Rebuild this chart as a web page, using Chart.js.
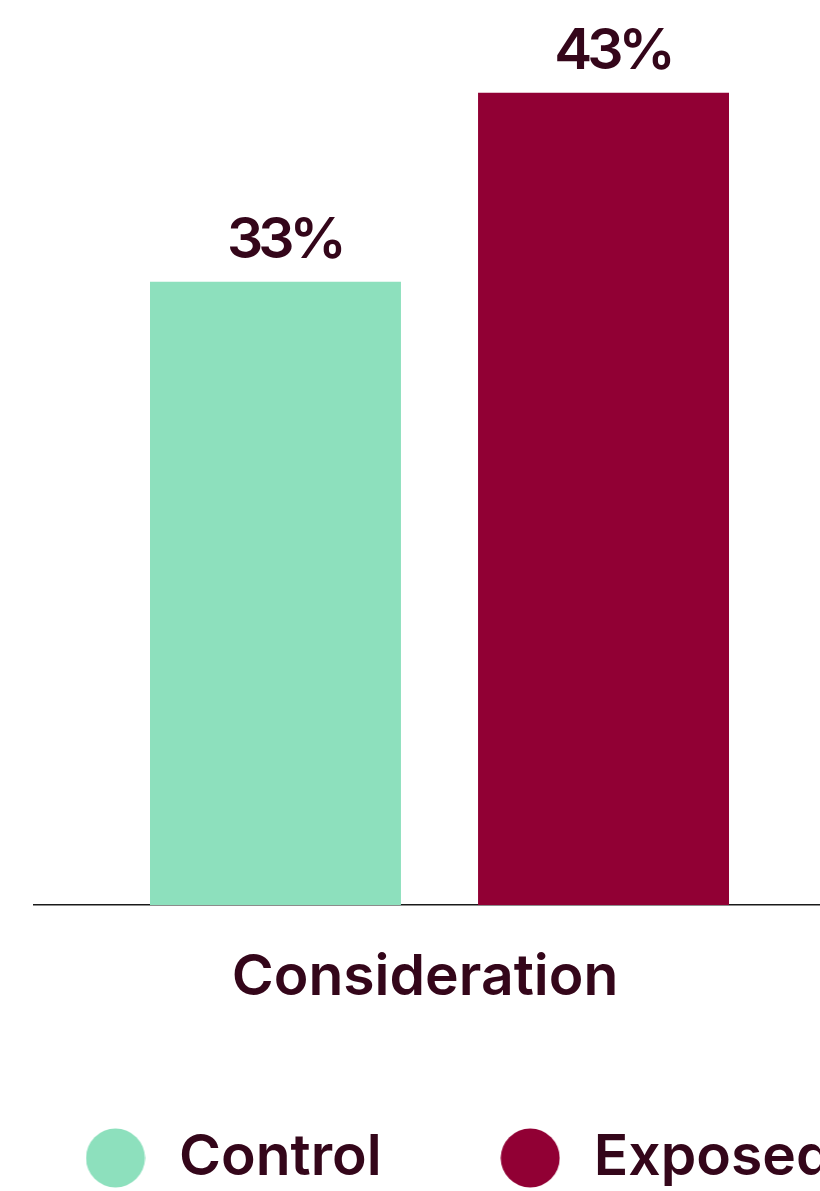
<!DOCTYPE html>
<html>
<head>
<meta charset="utf-8">
<script src="https://cdn.jsdelivr.net/npm/chart.js@4"></script>
<style>
html, body { margin: 0; padding: 0; background: #fff; }
body { width: 820px; height: 1191px; overflow: hidden; position: relative; }
#wrap { position: absolute; left: -33px; top: 0; }
</style>
</head>
<body>
<div id="wrap"><canvas id="myChart" width="1100" height="1240"></canvas></div>
<script>
const categories = ['Consideration'];
const seriesNames = ['Control', 'Exposed'];
const controlValues = [33];
const exposedValues = [43];
const seriesColors = ['#8de0bd', '#910034'];
const textColor = '#34061a';
const fontFamily = 'Inter';

// round legend dots, drawn on small canvases so the dot can sit apart from the text
function makeDot(color) {
    let c = document.createElement('canvas');
    c.width = 60;
    c.height = 60;
    let g = c.getContext('2d');
    g.fillStyle = color;
    g.beginPath();
    g.arc(30, 30, 29.5, 0, Math.PI * 2);
    g.fill();
    return c;
}
const legendDots = seriesColors.map(makeDot);

// percent labels above bars
const valueLabels = {
    id: 'valueLabels',
    afterDatasetsDraw(chart) {
        let ctx = chart.ctx;
        ctx.save();
        ctx.font = '600 57px ' + fontFamily;
        ctx.letterSpacing = '-5px';
        ctx.fillStyle = textColor;
        ctx.textAlign = 'center';
        ctx.textBaseline = 'alphabetic';
        chart.data.datasets.forEach((ds, i) => {
            chart.getDatasetMeta(i).data.forEach((bar, j) => {
                ctx.fillText(ds.data[j] + '%', bar.x + 9, bar.y - 24);
            });
        });
        ctx.restore();
    }
};

let ctx = document.querySelector('#myChart').getContext('2d');
let myChart = new Chart(ctx, {
    type: 'bar',
    data: {
        labels: categories,
        datasets: [
            { label: seriesNames[0], data: controlValues, backgroundColor: seriesColors[0] },
            { label: seriesNames[1], data: exposedValues, backgroundColor: seriesColors[1] }
        ]
    },
    options: {
        responsive: false,
        animation: false,
        categoryPercentage: 0.809,
        barPercentage: 0.765,
        borderWidth: 0,
        layout: { padding: { top: 55, left: 0, right: 0, bottom: 43.5 } },
        scales: {
            x: {
                grid: { display: false, drawTicks: true, tickLength: 34 },
                border: { display: true, color: '#1a1a1a', width: 1.5 },
                ticks: {
                    color: textColor,
                    font: { family: fontFamily, size: 57, weight: '600', lineHeight: 1 },
                    padding: 10,
                    labelOffset: -14.5
                }
            },
            y: {
                min: 0,
                max: 45,
                grid: { display: false },
                border: { display: false },
                ticks: { display: false },
                afterFit(s) { s.width = 67; }
            },
            y2: {
                position: 'right',
                grid: { display: false },
                border: { display: false },
                ticks: { display: false },
                afterFit(s) { s.width = 222; }
            }
        },
        plugins: {
            tooltip: { enabled: false },
            legend: {
                position: 'bottom',
                align: 'start',
                labels: {
                    usePointStyle: true,
                    pointStyleWidth: 70,
                    padding: 113.5,
                    color: textColor,
                    font: { family: fontFamily, size: 57, weight: '600' },
                    generateLabels(chart) {
                        let items = Chart.defaults.plugins.legend.labels.generateLabels(chart);
                        items.forEach((it, i) => { it.pointStyle = legendDots[i]; });
                        return items;
                    }
                }
            }
        }
    },
    plugins: [valueLabels]
});
</script>
</body>
</html>
